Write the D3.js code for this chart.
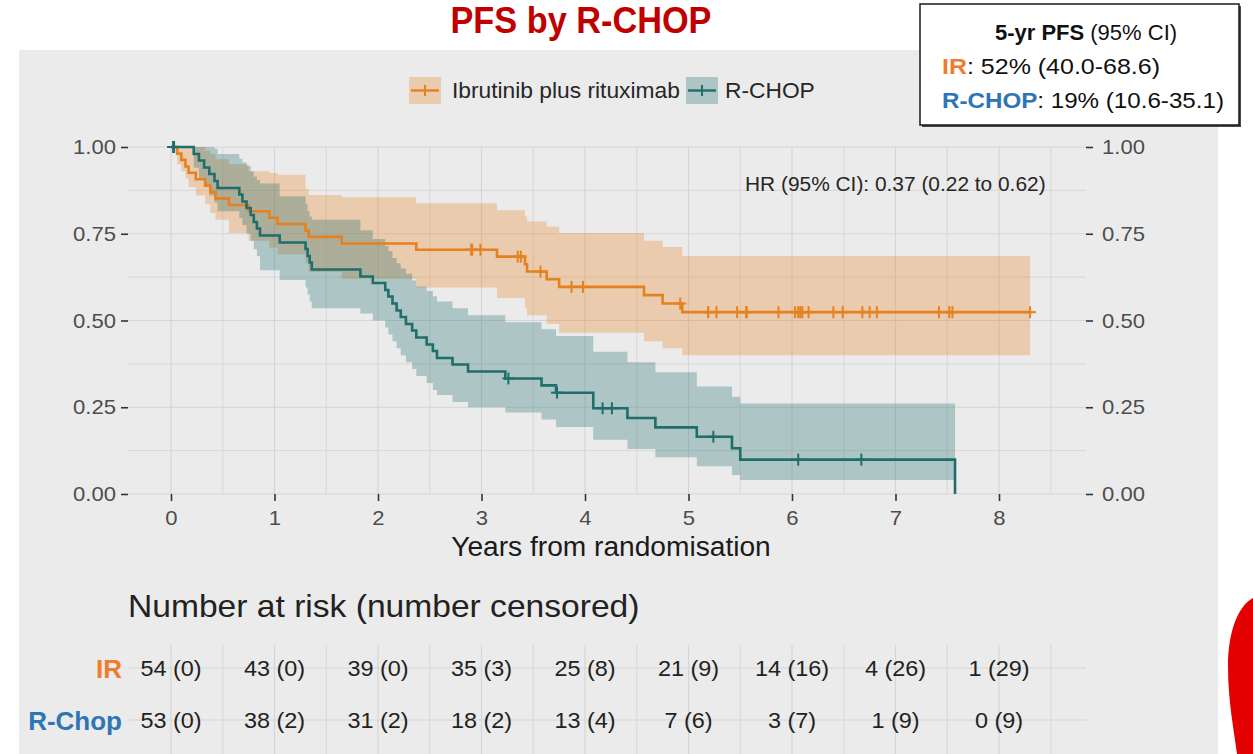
<!DOCTYPE html>
<html>
<head>
<meta charset="utf-8">
<script src="https://cdn.jsdelivr.net/npm/d3@7"></script>
<style>
  body { margin: 0; background: #ffffff; }
  svg { display: block; }
</style>
</head>
<body>
<svg id="chart" width="1253" height="754"></svg>
<script>
// ---- Kaplan-Meier estimates: ibrutinib plus rituximab (IR) ----
const irTime  = [0, 0.06, 0.10, 0.14, 0.17, 0.24, 0.33, 0.38, 0.43, 0.56, 0.75, 0.95, 1.03, 1.30, 1.33, 1.65, 2.37, 3.15, 3.42, 3.44, 3.63, 3.75, 4.57, 4.75, 4.94];
const irSurv  = [1, 0.981, 0.963, 0.944, 0.926, 0.907, 0.889, 0.870, 0.852, 0.833, 0.815, 0.796, 0.778, 0.759, 0.741, 0.722, 0.704, 0.684, 0.662, 0.641, 0.619, 0.597, 0.573, 0.549, 0.524];
const irUpper = [1, 1, 1, 1, 1, 1, 0.99, 0.98, 0.965, 0.95, 0.93, 0.925, 0.92, 0.88, 0.862, 0.855, 0.838, 0.818, 0.80, 0.785, 0.77, 0.752, 0.73, 0.712, 0.686];
const irLower = [1, 0.95, 0.93, 0.91, 0.885, 0.86, 0.835, 0.81, 0.79, 0.752, 0.73, 0.71, 0.69, 0.665, 0.64, 0.62, 0.595, 0.565, 0.535, 0.515, 0.49, 0.465, 0.44, 0.42, 0.40];
const irCensor = [2.90, 2.91, 2.99, 3.35, 3.38, 3.57, 3.87, 3.98, 4.92, 5.19, 5.19, 5.27, 5.47, 5.56, 5.56, 5.87,
                  6.03, 6.06, 6.08, 6.10, 6.16, 6.40, 6.49, 6.68, 6.75, 6.82, 7.42, 7.52, 7.55, 8.30];
const irEnd = 8.30;

// ---- Kaplan-Meier estimates: R-CHOP ----
const rcTime  = [0, 0.22, 0.27, 0.32, 0.37, 0.42, 0.45, 0.66, 0.69, 0.73, 0.77, 0.80, 0.83, 0.86, 1.05, 1.30, 1.32, 1.34, 1.36, 1.83, 1.95,
                 2.07, 2.10, 2.14, 2.18, 2.22, 2.27, 2.33, 2.37, 2.47, 2.53, 2.57, 2.72, 2.87, 3.23, 3.58, 3.72, 4.08, 4.41, 4.68, 5.08, 5.42, 5.50];
const rcSurv  = [1, 0.980, 0.961, 0.941, 0.922, 0.902, 0.882, 0.863, 0.843, 0.824, 0.804, 0.784, 0.765, 0.745, 0.725, 0.706, 0.686, 0.667, 0.647, 0.627, 0.608,
                 0.588, 0.569, 0.549, 0.529, 0.510, 0.490, 0.471, 0.451, 0.431, 0.412, 0.392, 0.373, 0.353, 0.333, 0.313, 0.292, 0.247, 0.219, 0.192, 0.165, 0.132, 0.099];
const rcUpper = [1, 1, 1, 1, 1, 0.995, 0.98, 0.966, 0.955, 0.945, 0.93, 0.915, 0.905, 0.895, 0.858, 0.835, 0.815, 0.80, 0.79, 0.76, 0.735,
                 0.715, 0.70, 0.68, 0.665, 0.65, 0.635, 0.615, 0.598, 0.585, 0.57, 0.555, 0.535, 0.515, 0.495, 0.475, 0.455, 0.41, 0.38, 0.351, 0.31, 0.28, 0.261];
const rcLower = [1, 0.94, 0.91, 0.885, 0.86, 0.84, 0.815, 0.795, 0.775, 0.75, 0.73, 0.705, 0.685, 0.645, 0.617, 0.595, 0.575, 0.555, 0.535, 0.52, 0.50,
                 0.48, 0.46, 0.44, 0.42, 0.40, 0.38, 0.36, 0.34, 0.32, 0.30, 0.285, 0.265, 0.25, 0.235, 0.215, 0.193, 0.156, 0.13, 0.106, 0.08, 0.055, 0.04];
const rcCensor = [0.02, 0.03, 3.26, 3.73, 4.17, 4.26, 5.24, 6.06, 6.67];
const rcEnd = 7.575;

// ---- axes and risk table ----
const xTicks = [0, 1, 2, 3, 4, 5, 6, 7, 8];
const yTicks = [0, 0.25, 0.5, 0.75, 1];
const riskTimes = [0, 1, 2, 3, 4, 5, 6, 7, 8];
const irRisk = ["54 (0)", "43 (0)", "39 (0)", "35 (3)", "25 (8)", "21 (9)", "14 (16)", "4 (26)", "1 (29)"];
const rcRisk = ["53 (0)", "38 (2)", "31 (2)", "18 (2)", "13 (4)", "7 (6)", "3 (7)", "1 (9)", "0 (9)"];
const seriesNames = ["Ibrutinib plus rituximab", "R-CHOP"];

// ---- styling ----
const FONT = '"Liberation Sans", Arial, Helvetica, sans-serif';
const SX = 1.05;                // plot text is drawn slightly wide
const ORANGE = "#e7801f";
const TEAL = "#1f6e6c";
const IR_LABEL = "#ed7d31";
const RC_LABEL = "#2e75b6";
const GRID = "#d5d5d5";

const svg = d3.select("#chart");
svg.append("rect").attr("width", 1253).attr("height", 754).attr("fill", "#ffffff");
svg.append("rect").attr("x", 19).attr("y", 50).attr("width", 1199).attr("height", 704).attr("fill", "#ebebeb");

const P = { left: 128, right: 1086, top: 147, bottom: 494 };
const x = d3.scaleLinear().domain([0, 8]).range([171, 999]);
const y = d3.scaleLinear().domain([0, 1]).range([494, 147]);

function stext(g, px, py, str, size, opts = {}) {
  return g.append("text")
    .attr("transform", `translate(${px},${py}) scale(${opts.sx ?? SX},1)`)
    .attr("text-anchor", opts.anchor || "start")
    .style("font-family", FONT)
    .style("font-size", size + "px")
    .style("font-weight", opts.weight || "normal")
    .attr("fill", opts.color || "#1a1a1a")
    .text(str);
}

// ---- panel grid ----
const grid = svg.append("g");
d3.range(0, 8.51, 0.5).forEach(t => {
  grid.append("line").attr("x1", x(t)).attr("x2", x(t)).attr("y1", P.top).attr("y2", P.bottom)
    .attr("stroke", GRID).attr("stroke-width", t % 1 === 0 ? 1.2 : 0.9);
});
d3.range(0, 1.001, 0.125).forEach(v => {
  grid.append("line").attr("x1", P.left).attr("x2", P.right).attr("y1", y(v)).attr("y2", y(v))
    .attr("stroke", GRID).attr("stroke-width", (v * 4) % 1 === 0 ? 1.2 : 0.9);
});

// ---- confidence bands ----
function bandData(times, lo, hi, end) {
  const pts = times.map((t, i) => ({ t, lo: lo[i], hi: hi[i] }));
  pts.push({ t: end, lo: lo[lo.length - 1], hi: hi[hi.length - 1] });
  return pts;
}
const band = d3.area().curve(d3.curveStepAfter)
  .x(d => x(d.t)).y0(d => y(d.lo)).y1(d => y(d.hi));

svg.append("path").datum(bandData(irTime, irLower, irUpper, irEnd))
  .attr("d", band).attr("fill", ORANGE).attr("fill-opacity", 0.3);
svg.append("path").datum(bandData(rcTime, rcLower, rcUpper, rcEnd))
  .attr("d", band).attr("fill", TEAL).attr("fill-opacity", 0.3);

// ---- survival curves ----
const line = d3.line().curve(d3.curveStepAfter).x(d => x(d.t)).y(d => y(d.s));
const irPts = irTime.map((t, i) => ({ t, s: irSurv[i] }));
irPts.push({ t: irEnd, s: irSurv[irSurv.length - 1] });
const rcPts = rcTime.map((t, i) => ({ t, s: rcSurv[i] }));
rcPts.push({ t: rcEnd, s: 0 });

svg.append("path").datum(irPts).attr("d", line).attr("fill", "none")
  .attr("stroke", ORANGE).attr("stroke-width", 2.6);
svg.append("path").datum(rcPts).attr("d", line).attr("fill", "none")
  .attr("stroke", TEAL).attr("stroke-width", 2.6);

// ---- censoring marks ----
function drawCensor(times, surv, cens, color) {
  const g = svg.append("g").attr("stroke", color).attr("stroke-width", 2);
  cens.forEach(t => {
    const i = d3.bisectRight(times, t) - 1;
    const cx = x(t), cy = y(surv[i]);
    g.append("line").attr("x1", cx).attr("x2", cx).attr("y1", cy - 6).attr("y2", cy + 6);
    g.append("line").attr("x1", cx - 6).attr("x2", cx + 6).attr("y1", cy).attr("y2", cy);
  });
}
drawCensor(irTime, irSurv, irCensor, ORANGE);
drawCensor(rcTime, rcSurv, rcCensor, TEAL);

// ---- axes ----
function styleAxis(g) {
  g.select(".domain").remove();
  g.selectAll(".tick line").attr("stroke", "#333333").attr("stroke-width", 1.6);
  g.selectAll(".tick text").each(function () {
    const t = d3.select(this);
    const tx = +t.attr("x") || 0, ty = +t.attr("y") || 0;
    t.attr("x", 0).attr("y", 0)
      .attr("transform", `translate(${tx},${ty}) scale(${SX},1)`)
      .attr("fill", "#4d4d4d")
      .style("font-family", FONT).style("font-size", "21px");
  });
}
const fmt = d3.format(".2f");
const gx = svg.append("g").attr("transform", `translate(0,${P.bottom})`)
  .call(d3.axisBottom(x).tickValues(xTicks).tickSize(7).tickPadding(9).tickFormat(d3.format("d")));
styleAxis(gx);
const gyl = svg.append("g").attr("transform", `translate(${P.left},0)`)
  .call(d3.axisLeft(y).tickValues(yTicks).tickSize(7).tickPadding(5).tickFormat(fmt));
styleAxis(gyl);
const gyr = svg.append("g").attr("transform", `translate(${P.right},0)`)
  .call(d3.axisRight(y).tickValues(yTicks).tickSize(7).tickPadding(9).tickFormat(fmt));
styleAxis(gyr);

// axis title and hazard ratio note
stext(svg, 611, 556, "Years from randomisation", 26.8, { anchor: "middle" });
stext(svg, 745, 191, "HR (95% CI): 0.37 (0.22 to 0.62)", 19.9, { color: "#262626" });

// ---- legend ----
const legendItems = [
  { name: seriesNames[0], color: ORANGE, kx: 409, tx: 452 },
  { name: seriesNames[1], color: TEAL, kx: 686, tx: 725 }
];
legendItems.forEach(d => {
  const g = svg.append("g");
  g.append("rect").attr("x", d.kx).attr("y", 77).attr("width", 32).attr("height", 27)
    .attr("fill", d.color).attr("fill-opacity", 0.3);
  g.append("line").attr("x1", d.kx + 2).attr("x2", d.kx + 30).attr("y1", 90.5).attr("y2", 90.5)
    .attr("stroke", d.color).attr("stroke-width", 2.4);
  g.append("line").attr("x1", d.kx + 16).attr("x2", d.kx + 16).attr("y1", 85).attr("y2", 96)
    .attr("stroke", d.color).attr("stroke-width", 2);
  stext(g, d.tx, 98, d.name, 21.7, { color: "#262626" });
});

// ---- number at risk table ----
stext(svg, 128, 617, "Number at risk (number censored)", 32, { color: "#222222" });
const rows = [
  { label: "IR", color: IR_LABEL, vals: irRisk, ry: 668 },
  { label: "R-Chop", color: RC_LABEL, vals: rcRisk, ry: 720 }
];
const rg = svg.append("g");
d3.range(0, 8.51, 0.5).forEach(t => {
  rg.append("line").attr("x1", x(t)).attr("x2", x(t)).attr("y1", 645).attr("y2", 754)
    .attr("stroke", GRID).attr("stroke-width", t % 1 === 0 ? 1.2 : 0.9);
});
rows.forEach(r => {
  rg.append("line").attr("x1", P.left).attr("x2", P.right).attr("y1", r.ry).attr("y2", r.ry)
    .attr("stroke", GRID).attr("stroke-width", 1.2);
  r.vals.forEach((v, i) => {
    stext(rg, x(riskTimes[i]), r.ry + 8, v, 22.3, { anchor: "middle", color: "#222222" });
  });
  svg.append("text").attr("x", 122).attr("y", r.ry + 10).attr("text-anchor", "end")
    .style("font-family", FONT).style("font-size", "26px").style("font-weight", "bold")
    .attr("fill", r.color).text(r.label);
});

// ---- title ----
svg.append("text").attr("x", 581).attr("y", 33).attr("text-anchor", "middle")
  .attr("textLength", 261).attr("lengthAdjust", "spacingAndGlyphs")
  .style("font-family", FONT).style("font-size", "36px").style("font-weight", "bold")
  .attr("fill", "#c00000").text("PFS by R-CHOP");

// ---- 5-year PFS summary box ----
const box = svg.append("g");
box.append("rect").attr("x", 922).attr("y", 6).attr("width", 319).attr("height", 121).attr("fill", "#4a4a4a");
box.append("rect").attr("x", 920).attr("y", 4).attr("width", 319).attr("height", 121)
  .attr("fill", "#ffffff").attr("stroke", "#1a1a1a").attr("stroke-width", 1.5);
const l1 = box.append("text").attr("x", 1086).attr("y", 40).attr("text-anchor", "middle")
  .style("font-family", FONT).style("font-size", "22px").attr("fill", "#111111");
l1.append("tspan").style("font-weight", "bold").text("5-yr PFS");
l1.append("tspan").text(" (95% CI)");
const l2 = box.append("text").attr("x", 942).attr("y", 74)
  .attr("textLength", 218).attr("lengthAdjust", "spacingAndGlyphs")
  .style("font-family", FONT).style("font-size", "22px").attr("fill", "#111111");
l2.append("tspan").style("font-weight", "bold").attr("fill", IR_LABEL).text("IR");
l2.append("tspan").text(": 52% (40.0-68.6)");
const l3 = box.append("text").attr("x", 942).attr("y", 108)
  .attr("textLength", 282).attr("lengthAdjust", "spacingAndGlyphs")
  .style("font-family", FONT).style("font-size", "22px").attr("fill", "#111111");
l3.append("tspan").style("font-weight", "bold").attr("fill", RC_LABEL).text("R-CHOP");
l3.append("tspan").text(": 19% (10.6-35.1)");

// ---- red shape at the slide edge ----
svg.append("path")
  .attr("d", "M1253,598 C1238,606 1228,632 1228,666 C1228,702 1234,730 1237,754 L1253,754 Z")
  .attr("fill", "#e30000");
</script>
</body>
</html>
